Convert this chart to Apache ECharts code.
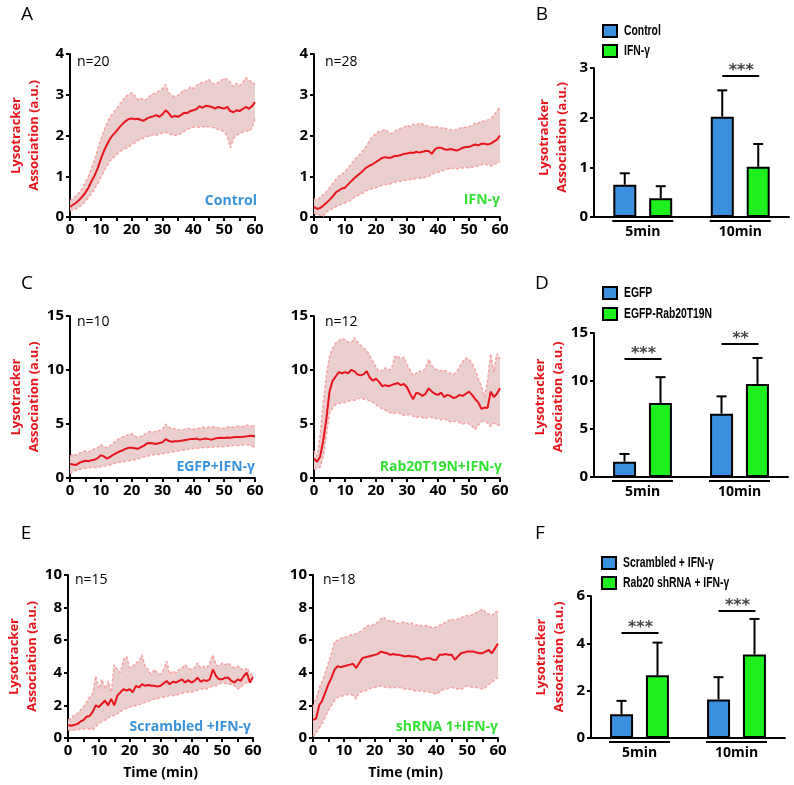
<!DOCTYPE html>
<html><head><meta charset="utf-8">
<script src="https://cdn.jsdelivr.net/npm/echarts@6/dist/echarts.min.js"></script>
<style>html,body{margin:0;padding:0;background:#fff}#c{width:794px;height:785px}</style>
</head><body><div id="c"></div>
<script>
// ---------- DATA ----------
const TIME = [0,1,2,3,4,5,6,7,8,9,10,11,12,13,14,15,16,17,18,19,20,21,22,23,24,25,26,27,28,29,30,31,32,33,34,35,36,37,38,39,40,41,42,43,44,45,46,47,48,49,50,51,52,53,54,55,56,57,58,59,60];

// A: Control
const ctrlMean  = [0.25,0.3,0.35,0.42,0.5,0.6,0.72,0.88,1.02,1.2,1.42,1.62,1.78,1.92,2.02,2.1,2.2,2.28,2.35,2.4,2.42,2.4,2.41,2.38,2.36,2.42,2.45,2.47,2.5,2.46,2.52,2.62,2.55,2.45,2.48,2.46,2.5,2.56,2.55,2.6,2.62,2.65,2.72,2.68,2.73,2.72,2.7,2.66,2.7,2.68,2.66,2.7,2.6,2.57,2.62,2.6,2.65,2.7,2.66,2.72,2.82];
const ctrlUpper = [0.4,0.45,0.52,0.6,0.7,0.85,1.0,1.2,1.42,1.65,1.9,2.12,2.3,2.45,2.55,2.65,2.75,2.85,2.95,3.0,3.05,2.98,2.88,2.92,2.85,2.9,2.98,3.02,3.05,3.1,3.15,3.25,3.05,2.98,2.95,2.98,3.05,3.12,3.1,3.2,3.15,3.22,3.28,3.3,3.32,3.38,3.3,3.25,3.3,3.35,3.4,3.38,3.3,3.2,3.28,3.22,3.3,3.42,3.35,3.32,3.25];
const ctrlLower = [0.15,0.18,0.2,0.25,0.3,0.38,0.48,0.58,0.7,0.82,0.98,1.12,1.25,1.38,1.45,1.52,1.6,1.65,1.68,1.72,1.78,1.82,1.88,1.9,1.95,1.98,1.98,2.02,2.0,2.05,2.05,2.08,2.05,2.02,2.0,2.02,2.05,2.1,2.15,2.18,2.2,2.22,2.2,2.22,2.2,2.22,2.2,2.18,2.15,2.12,2.1,1.98,1.7,1.92,2.0,2.05,2.08,2.12,2.1,2.18,2.4];

// A: IFN-γ
const ifnMean  = [0.25,0.2,0.22,0.28,0.35,0.42,0.5,0.6,0.65,0.7,0.72,0.8,0.88,0.95,1.02,1.08,1.15,1.22,1.26,1.3,1.35,1.4,1.45,1.47,1.45,1.46,1.5,1.5,1.52,1.55,1.56,1.58,1.57,1.6,1.58,1.6,1.62,1.62,1.55,1.66,1.7,1.7,1.66,1.65,1.67,1.65,1.63,1.66,1.7,1.72,1.72,1.75,1.78,1.76,1.8,1.8,1.78,1.8,1.85,1.9,2.0];
const ifnUpper = [0.45,0.4,0.48,0.55,0.62,0.72,0.82,0.92,1.0,1.05,1.12,1.2,1.3,1.4,1.48,1.55,1.65,1.75,1.88,1.98,2.05,2.1,2.12,2.15,2.08,2.05,2.1,2.15,2.18,2.2,2.25,2.22,2.28,2.25,2.3,2.28,2.25,2.22,2.2,2.22,2.2,2.18,2.2,2.15,2.15,2.12,2.15,2.18,2.2,2.2,2.22,2.25,2.3,2.3,2.35,2.35,2.38,2.4,2.5,2.6,2.7];
const ifnLower = [0.1,0.05,0.05,0.02,0.12,0.18,0.2,0.25,0.28,0.32,0.35,0.38,0.42,0.48,0.52,0.55,0.6,0.65,0.68,0.7,0.72,0.75,0.78,0.8,0.8,0.82,0.85,0.88,0.88,0.9,0.9,0.92,0.92,0.95,0.95,0.95,0.98,1.0,1.05,1.08,1.1,1.12,1.15,1.18,1.18,1.2,1.18,1.2,1.2,1.22,1.2,1.22,1.25,1.25,1.28,1.3,1.28,1.25,1.28,1.32,1.35];

// C: EGFP+IFN-γ
const egfpMean  = [1.3,1.25,1.2,1.4,1.5,1.6,1.55,1.65,1.7,1.85,2.1,2.0,1.8,1.95,2.15,2.3,2.45,2.55,2.7,2.8,2.8,2.75,2.7,2.85,3.0,3.2,3.25,3.2,3.15,3.25,3.3,3.6,3.45,3.35,3.4,3.4,3.45,3.5,3.55,3.6,3.6,3.65,3.55,3.6,3.65,3.6,3.55,3.65,3.7,3.72,3.7,3.75,3.72,3.78,3.8,3.8,3.82,3.85,3.9,3.92,3.85];
const egfpUpper = [2.0,2.2,2.1,2.3,2.4,2.5,2.4,2.6,2.7,2.8,3.1,2.9,2.8,3.0,3.2,3.5,3.65,3.8,3.9,4.0,4.1,3.9,3.75,3.85,4.0,4.2,4.3,4.25,4.35,4.4,4.5,5.0,4.7,4.6,4.55,4.5,4.45,4.5,4.6,4.55,4.5,4.55,4.6,4.7,4.65,4.7,4.75,4.7,4.65,4.6,4.6,4.7,4.75,4.7,4.8,4.8,4.75,4.9,4.85,4.8,4.85];
const egfpLower = [0.4,0.6,0.7,0.8,0.85,0.9,0.95,1.0,0.95,1.0,1.05,1.1,1.15,1.2,1.3,1.4,1.45,1.5,1.55,1.6,1.65,1.7,1.75,1.85,1.95,2.0,2.1,2.15,2.2,2.2,2.25,2.3,2.35,2.4,2.45,2.5,2.55,2.6,2.65,2.7,2.72,2.75,2.78,2.8,2.82,2.85,2.85,2.88,2.9,2.9,2.92,2.95,2.98,3.0,3.0,3.02,3.05,3.1,3.05,2.95,2.8];

// C: Rab20T19N+IFN-γ
const rabMean  = [1.8,1.5,2.0,3.5,5.5,8.0,9.0,9.4,9.8,9.7,9.8,9.7,10.0,9.9,9.6,9.5,9.6,9.9,9.3,9.0,9.2,8.9,8.5,8.6,8.5,8.6,8.7,8.8,8.6,8.7,8.4,7.8,7.3,7.9,7.8,7.6,7.8,8.3,8.0,7.8,7.7,7.9,7.5,7.7,7.6,7.4,7.5,7.7,7.6,7.8,8.0,7.7,7.3,7.0,6.4,6.5,6.5,8.0,7.5,7.8,8.3];
const rabUpper = [2.5,2.0,4.0,7.0,9.5,11.3,12.0,12.5,12.7,12.9,12.8,12.6,12.5,13.0,12.6,12.3,12.0,11.8,11.3,10.8,10.3,9.8,10.0,10.2,10.0,10.1,11.2,11.3,11.0,11.2,10.5,10.0,9.5,9.7,9.9,9.8,10.2,11.0,10.4,10.1,10.0,9.9,10.0,9.8,9.7,9.6,9.8,10.3,10.8,11.1,11.0,10.6,10.0,9.2,8.5,7.5,9.0,11.5,9.8,11.5,11.0];
const rabLower = [0.8,0.9,1.0,2.0,4.0,6.0,6.5,6.8,6.9,7.0,7.0,7.1,7.2,7.2,7.3,7.4,7.3,7.3,7.1,7.0,6.8,6.6,6.4,6.3,6.1,6.0,6.0,6.1,5.9,5.8,5.8,5.9,5.7,5.6,5.7,5.6,5.5,5.7,5.6,5.5,5.5,5.4,5.5,5.3,5.2,5.2,5.3,5.1,5.0,5.1,5.0,4.8,4.5,4.9,5.2,5.3,5.1,4.8,5.1,4.9,4.9];

// E: Scrambled+IFN-γ
const scrMean  = [0.8,0.75,0.8,0.85,1.0,1.1,1.3,1.35,1.6,2.0,1.9,2.1,2.3,2.0,2.4,2.0,2.6,2.8,3.0,2.9,3.0,2.8,3.2,3.1,3.3,3.2,3.25,3.2,3.2,3.15,3.2,3.35,3.5,3.3,3.45,3.4,3.5,3.6,3.4,3.55,3.4,3.5,3.7,3.45,3.55,3.5,3.6,4.2,3.8,3.6,3.6,3.7,3.7,3.5,3.4,3.6,3.5,3.8,4.0,3.4,3.75];
const scrUpper = [1.1,1.2,1.4,1.5,1.7,1.9,2.2,2.5,2.7,3.8,3.0,3.6,3.0,3.5,2.8,4.5,4.2,4.0,4.8,5.0,4.3,4.4,4.6,4.7,5.1,4.4,4.2,3.9,4.2,4.0,3.9,4.2,4.7,3.9,4.1,4.0,4.2,4.3,4.5,4.3,4.2,4.3,4.6,4.3,4.4,4.3,4.6,5.1,4.5,4.4,4.6,4.5,4.6,4.4,4.3,4.4,4.3,4.1,4.3,4.0,3.8];
const scrLower = [0.5,0.45,0.5,0.5,0.55,0.55,0.6,0.55,0.5,0.7,0.9,1.0,1.1,1.2,1.4,1.35,1.5,1.6,1.8,1.8,1.9,1.95,2.0,2.05,2.1,2.2,2.25,2.3,2.4,2.4,2.5,2.5,2.55,2.6,2.6,2.6,2.7,2.75,2.8,2.8,2.8,2.9,2.95,3.0,3.0,3.0,3.1,3.2,3.2,3.3,3.4,3.35,3.3,3.3,3.2,3.0,3.1,3.3,3.4,3.5,3.6];

// E: shRNA 1+IFN-γ
const shMean  = [1.1,1.2,2.0,2.3,2.8,3.3,3.7,4.2,4.4,4.35,4.4,4.45,4.5,4.55,4.3,4.6,4.9,4.95,5.0,5.05,5.1,5.15,5.3,5.25,5.2,5.1,5.15,5.1,5.1,5.05,5.0,5.05,5.0,5.0,4.95,4.8,4.85,4.9,4.9,4.8,4.8,5.1,5.1,5.15,5.1,5.1,4.8,5.0,5.2,5.25,5.3,5.3,5.3,5.25,5.2,5.2,5.3,5.4,5.2,5.5,5.8];
const shUpper = [1.9,2.4,3.0,3.5,4.0,4.6,5.2,5.9,6.0,6.1,6.2,6.2,6.3,6.35,6.4,6.5,6.6,6.8,6.9,6.9,7.0,7.1,7.3,7.4,7.2,7.2,7.2,7.1,7.0,7.1,7.1,7.0,7.05,6.9,6.95,6.9,6.85,6.9,6.8,6.8,6.8,6.9,7.0,7.1,7.2,7.3,7.2,7.3,7.4,7.45,7.5,7.5,7.6,7.7,7.8,7.9,7.7,7.6,7.5,7.7,7.8];
const shLower = [0.1,0.3,0.6,0.9,1.3,1.7,2.0,2.3,2.5,2.55,2.6,2.65,2.7,2.6,2.4,2.8,2.85,2.9,3.0,3.05,3.1,3.15,3.2,3.15,3.1,3.1,3.1,3.1,3.1,3.05,3.0,3.0,2.95,2.9,2.9,2.9,2.85,2.85,2.8,2.75,2.7,2.8,2.95,3.0,3.05,3.1,3.05,3.0,3.0,3.1,3.2,3.15,3.1,3.1,3.05,3.0,3.1,3.3,3.4,3.6,3.7];

// Bar charts
const BAR_CATS = ['5min', '10min'];
const bNames = ['Control', 'IFN-γ'];
const bMean1 = [0.65, 2.02];  const bTop1 = [0.88, 2.55];
const bMean2 = [0.38, 1.01];  const bTop2 = [0.62, 1.47];
const bSig = [[1, 2.84, '***']];

const dNames = ['EGFP', 'EGFP-Rab20T19N'];
const dMean1 = [1.6, 6.6];   const dTop1 = [2.4, 8.4];
const dMean2 = [7.7, 9.7];   const dTop2 = [10.4, 12.4];
const dSig = [[0, 12.3, '***'], [1, 13.85, '**']];

const fNames = ['Scrambled + IFN-γ', 'Rab20 shRNA + IFN-γ'];
const fMean1 = [1.0, 1.63];  const fTop1 = [1.57, 2.57];
const fMean2 = [2.65, 3.53]; const fTop2 = [4.03, 5.03];
const fSig = [[0, 4.44, '***'], [1, 5.37, '***']];

// ---------- STYLE ----------
const FONT = '"Open Sans", sans-serif';
const RED = '#e8141b', BAND = '#ebcfcf', EDGE = '#f6a3a3';
const BLUE = '#3a8fdf', GREEN = '#1ef01e';
const BLUE_TXT = '#3a93dc', GREEN_TXT = '#33e033';
const YNAME = 'Lysotracker\nAssociation (a.u.)';

const linePanels = [
  {grid:{left:70, top:54, width:185, height:163}, ymax:4, yint:1, mean:ctrlMean, up:ctrlUpper, lo:ctrlLower, yname:true, time:false},
  {grid:{left:314, top:54, width:186, height:163}, ymax:4, yint:1, mean:ifnMean, up:ifnUpper, lo:ifnLower, yname:false, time:false},
  {grid:{left:70, top:316, width:185, height:162}, ymax:15, yint:5, mean:egfpMean, up:egfpUpper, lo:egfpLower, yname:true, time:false},
  {grid:{left:314, top:316, width:186, height:162}, ymax:15, yint:5, mean:rabMean, up:rabUpper, lo:rabLower, yname:false, time:false},
  {grid:{left:68, top:575, width:185, height:163}, ymax:10, yint:2, mean:scrMean, up:scrUpper, lo:scrLower, yname:true, time:true},
  {grid:{left:313, top:575, width:185, height:163}, ymax:10, yint:2, mean:shMean, up:shUpper, lo:shLower, yname:false, time:true}
];
const barPanels = [
  {grid:{left:594, top:68, width:195, height:149}, ymax:3, yint:1, names:bNames, m1:bMean1, t1:bTop1, m2:bMean2, t2:bTop2, sig:bSig, pad:10, leg:[603, 25, 20]},
  {grid:{left:594, top:333, width:194, height:144}, ymax:15, yint:5, names:dNames, m1:dMean1, t1:dTop1, m2:dMean2, t2:dTop2, sig:dSig, pad:16, leg:[603, 287, 21]},
  {grid:{left:591, top:596, width:194, height:142}, ymax:6, yint:2, names:fNames, m1:fMean1, t1:fTop1, m2:fMean2, t2:fTop2, sig:fSig, pad:20, leg:[602, 557, 20]}
];

const axisLine = {show:true, onZero:false, lineStyle:{color:'#000', width:2}};
const axisTick = {show:true, inside:false, length:4, lineStyle:{color:'#000', width:2}};
const tickLabel = {color:'#000', fontFamily:FONT, fontWeight:'bold', fontSize:15};
const ynameStyle = (pad) => ({color:RED, fontFamily:FONT, fontWeight:'bold', fontSize:13, lineHeight:18, align:'center', padding:[0,0,0,pad]});

const grids = [], xAxes = [], yAxes = [], series = [], graphics = [];

function zip(a, b) { return a.map((v, i) => [v, b[i]]); }

linePanels.forEach((p, i) => {
  grids.push(p.grid);
  xAxes.push({type:'value', gridIndex:i, min:0, max:60, interval:5,
    axisLine, axisTick, splitLine:{show:false},
    axisLabel:Object.assign({}, tickLabel, {margin:5, formatter: v => (v % 10 === 0 ? String(v) : '')}),
    name: p.time ? 'Time (min)' : '', nameLocation:'middle', nameGap:28,
    nameTextStyle:{color:'#000', fontFamily:FONT, fontWeight:'bold', fontSize:14}});
  yAxes.push({type:'value', gridIndex:i, min:0, max:p.ymax, interval:p.yint,
    axisLine, axisTick, splitLine:{show:false},
    axisLabel:Object.assign({}, tickLabel, {margin:6}),
    name: p.yname ? YNAME : '', nameLocation:'middle', nameRotate:90, nameGap:27,
    nameTextStyle: ynameStyle(0)});
  const up = p.up, lo = p.lo;
  series.push({type:'custom', xAxisIndex:i, yAxisIndex:i, silent:true, z:1,
    data: zip(TIME, lo),
    renderItem: (params, api) => {
      if (params.dataIndex !== 0) return null;
      const pts = [];
      for (let k = 0; k < TIME.length; k++) pts.push(api.coord([TIME[k], up[k]]));
      for (let k = TIME.length - 1; k >= 0; k--) pts.push(api.coord([TIME[k], lo[k]]));
      return {type:'polygon', shape:{points:pts}, style:{fill:BAND}};
    }});
  series.push({type:'line', xAxisIndex:i, yAxisIndex:i, data:zip(TIME, up), showSymbol:false, symbol:'none', z:2,
    lineStyle:{color:EDGE, width:1.5, type:[3,2]}});
  series.push({type:'line', xAxisIndex:i, yAxisIndex:i, data:zip(TIME, lo), showSymbol:false, symbol:'none', z:2,
    lineStyle:{color:EDGE, width:1.5, type:[3,2]}});
  series.push({type:'line', xAxisIndex:i, yAxisIndex:i, data:zip(TIME, p.mean), showSymbol:false, symbol:'none', z:3,
    lineStyle:{color:RED, width:2}});
});

const OFF = 18, HALF = 30.5;
const BAR_COLORS = [BLUE, GREEN];

barPanels.forEach((p, j) => {
  const gi = 6 + j;
  grids.push(p.grid);
  xAxes.push({type:'category', gridIndex:gi, data:BAR_CATS,
    axisLine, axisTick:{show:false}, splitLine:{show:false},
    axisLabel:Object.assign({}, tickLabel, {fontSize:14, margin:8})});
  yAxes.push({type:'value', gridIndex:gi, min:0, max:p.ymax, interval:p.yint,
    axisLine, axisTick, splitLine:{show:false},
    axisLabel:Object.assign({}, tickLabel, {margin:6}),
    name:YNAME, nameLocation:'middle', nameRotate:90, nameGap:23, nameTextStyle: ynameStyle(p.pad)});
  series.push({type:'bar', name:p.names[0], xAxisIndex:gi, yAxisIndex:gi, data:p.m1, barWidth:23, barGap:'56%',
    itemStyle:{color:BAR_COLORS[0], borderColor:'#000', borderWidth:2}, z:3});
  series.push({type:'bar', name:p.names[1], xAxisIndex:gi, yAxisIndex:gi, data:p.m2, barWidth:23, barGap:'56%',
    itemStyle:{color:BAR_COLORS[1], borderColor:'#000', borderWidth:2}, z:3});
  // error bars
  const errData = [];
  p.m1.forEach((v, k) => errData.push([k, v, p.t1[k], -1]));
  p.m2.forEach((v, k) => errData.push([k, v, p.t2[k], 1]));
  series.push({type:'custom', xAxisIndex:gi, yAxisIndex:gi, silent:true, z:2, data:errData,
    encode:{x:0, y:[1,2]},
    renderItem: (params, api) => {
      const a = api.coord([api.value(0), api.value(1)]);
      const b = api.coord([api.value(0), api.value(2)]);
      const x = a[0] + api.value(3) * OFF;
      return {type:'group', children:[
        {type:'line', shape:{x1:x, y1:a[1], x2:x, y2:b[1]}, style:{stroke:'#000', lineWidth:2}},
        {type:'line', shape:{x1:x-5, y1:b[1], x2:x+5, y2:b[1]}, style:{stroke:'#000', lineWidth:2}}
      ]};
    }});
  // category underline
  series.push({type:'custom', xAxisIndex:gi, yAxisIndex:gi, silent:true, z:2, data:[[0,0],[1,0]],
    renderItem: (params, api) => {
      const c = api.coord([api.value(0), 0]);
      return {type:'line', shape:{x1:c[0]-HALF, y1:c[1]+4, x2:c[0]+HALF, y2:c[1]+4}, style:{stroke:'#000', lineWidth:2}};
    }});
  // significance
  const sig = p.sig;
  series.push({type:'custom', xAxisIndex:gi, yAxisIndex:gi, silent:true, z:4,
    data: sig.map(s => [s[0], s[1]]),
    renderItem: (params, api) => {
      const c = api.coord([api.value(0), api.value(1)]);
      return {type:'group', children:[
        {type:'line', shape:{x1:c[0]-OFF, y1:c[1], x2:c[0]+OFF+1, y2:c[1]}, style:{stroke:'#000', lineWidth:2}},
        {type:'text', style:{text:sig[params.dataIndex][2], x:c[0]+1, y:c[1]+3, align:'center', verticalAlign:'bottom',
          font:'bold 16px "DejaVu Sans", sans-serif', fill:'#444'}}
      ]};
    }});
  // legend (condensed look)
  const [lx, ly, pitch] = p.leg;
  p.names.forEach((nm, k) => {
    graphics.push({type:'rect', x:lx, y:ly + k * pitch, silent:true,
      shape:{x:0, y:0, width:14, height:12}, style:{fill:BAR_COLORS[k], stroke:'#000', lineWidth:2}});
    graphics.push({type:'text', x:lx + 21, y:ly + k * pitch + 6.5, scaleX:0.74, silent:true,
      style:{text:nm, x:0, y:0, fill:'#000', font:'bold 14px "Liberation Sans", Arial, sans-serif', align:'left', verticalAlign:'middle'}});
  });
});

function txt(x, y, text, opts) {
  return {type:'text', x, y, silent:true, style:Object.assign({text, fill:'#000', font:'14px "Open Sans", sans-serif', align:'left', verticalAlign:'middle'}, opts || {})};
}
const cond = (x, y, text, color) => txt(x, y, text, {align:'right', fill:color, font:'bold 14px "Open Sans", sans-serif'});
const letter = (x, y, t) => txt(x, y, t, {align:'center', font:'19px "Open Sans", sans-serif'});

graphics.push(
  letter(27, 15, 'A'), letter(542, 15, 'B'), letter(27, 284, 'C'), letter(542, 284, 'D'), letter(26, 534, 'E'), letter(540, 534, 'F'),
  txt(77, 62, 'n=20'), txt(325, 62, 'n=28'), txt(77, 322, 'n=10'), txt(325, 322, 'n=12'), txt(75, 580, 'n=15'), txt(323, 580, 'n=18'),
  cond(257, 201, 'Control', BLUE_TXT), cond(500, 200, 'IFN-γ', GREEN_TXT),
  cond(255, 467, 'EGFP+IFN-γ', BLUE_TXT), cond(502, 467, 'Rab20T19N+IFN-γ', GREEN_TXT),
  cond(251, 727, 'Scrambled +IFN-γ', BLUE_TXT), cond(498, 727, 'shRNA 1+IFN-γ', GREEN_TXT)
);

const chart = echarts.init(document.getElementById('c'), null, {renderer:'canvas'});
chart.setOption({
  animation:false, backgroundColor:'#fff',
  grid:grids, xAxis:xAxes, yAxis:yAxes, series, graphic:graphics
});
</script></body></html>
